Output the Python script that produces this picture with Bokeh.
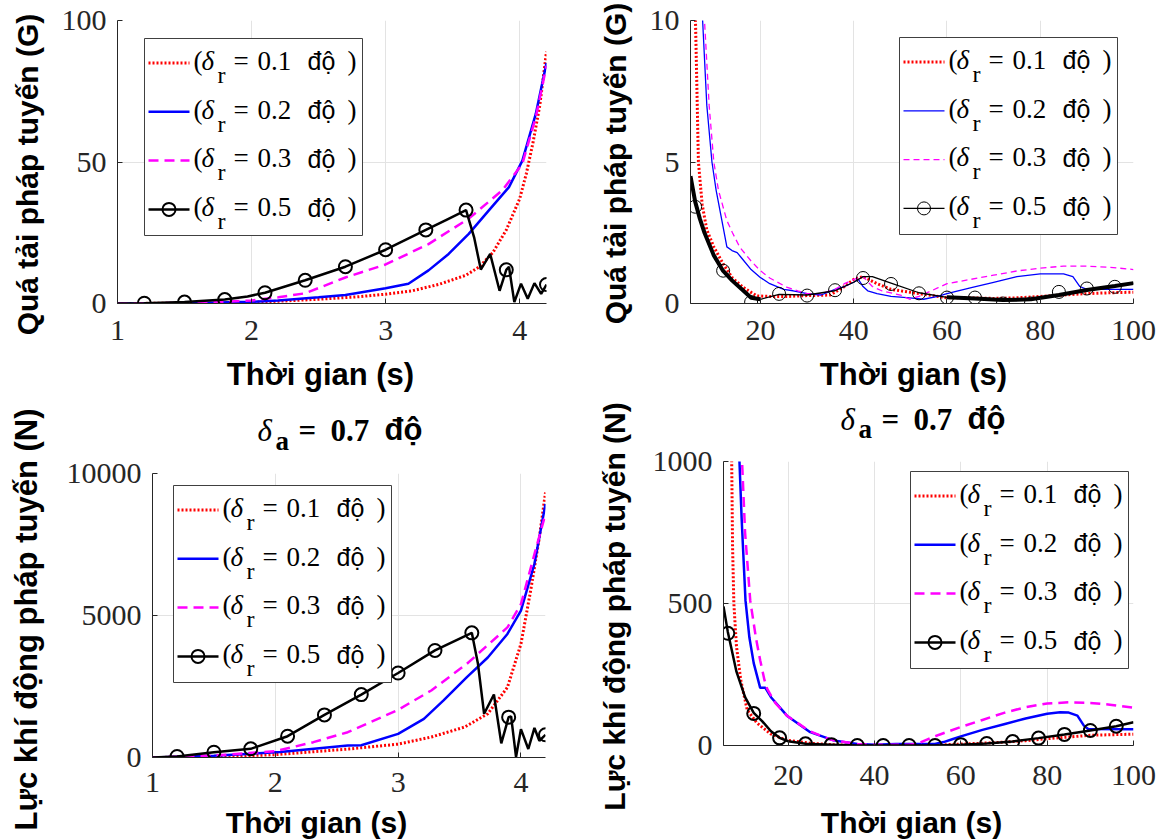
import math
from bokeh.plotting import figure
from bokeh.models import Range1d, FixedTicker
from bokeh.layouts import row, column
from bokeh.core.properties import value
from bokeh.embed import file_html
from bokeh.resources import INLINE

# ------------------------------------------------------------------ data
legend_values = ["0.1", "0.2", "0.3", "0.5"]
title_value = "0.7"
x_label = "Thời gian (s)"
y_label_g = "Quá tải pháp tuyến (G)"
y_label_n = "Lực khí động pháp tuyến (N)"

# Panel A (top-left): normal load factor (G), time 1..4.2 s
a_red_t = [1.0, 1.5, 2.0, 2.2, 2.5, 2.8, 3.0, 3.2, 3.4, 3.6, 3.7, 3.8, 3.9, 4.0, 4.05, 4.1, 4.15, 4.2]
a_red_y = [0.0, 0.1, 0.4, 0.8, 1.5, 2.4, 3.3, 4.5, 6.8, 10.0, 13.0, 18.0, 26.0, 37.0, 46.0, 57.0, 70.0, 89.0]
a_blue_t = [1.0, 1.5, 2.0, 2.2, 2.5, 2.7, 3.0, 3.17, 3.32, 3.47, 3.62, 3.77, 3.92, 4.02, 4.12, 4.2]
a_blue_y = [0.0, 0.1, 0.6, 1.1, 2.2, 3.0, 5.4, 7.0, 11.7, 17.5, 24.6, 32.9, 41.1, 50.5, 67.0, 85.0]
a_mag_t = [1.0, 1.5, 1.8, 2.0, 2.2, 2.4, 2.7, 3.0, 3.32, 3.62, 3.87, 4.02, 4.12, 4.2]
a_mag_y = [0.0, 0.2, 0.6, 1.1, 2.2, 3.6, 9.2, 13.8, 21.0, 30.0, 40.0, 49.4, 65.8, 84.0]
a_blk_t = [1.0, 1.2, 1.5, 1.8, 1.97, 2.1, 2.4, 2.7, 3.0, 3.3, 3.45, 3.6, 3.66, 3.71, 3.78, 3.85,
           3.9, 3.92, 3.96, 4.01, 4.06, 4.11, 4.16, 4.2]
a_blk_y = [0.0, 0.1, 0.5, 1.4, 2.5, 3.8, 8.2, 13.0, 19.0, 26.0, 29.5, 33.0, 23.4, 12.0, 17.5, 4.5,
           11.9, 13.0, 0.5, 7.0, 1.7, 7.2, 3.4, 6.7]
a_mk_t = [1.2, 1.5, 1.8, 2.1, 2.4, 2.7, 3.0, 3.3, 3.6, 3.9, 4.2]
a_mk_y = [0.1, 0.5, 1.4, 3.8, 8.2, 13.0, 19.0, 26.0, 33.0, 11.9, 6.7]

# Panel B (top-right): normal load factor (G), time 5..100 s
b_red_t = [5.8, 6.2, 6.7, 7.5, 8.5, 10, 12, 14, 16.3, 19.2, 22, 26, 30, 35, 38, 40, 42, 45, 48,
           52, 56, 60, 65, 70, 75, 80, 85, 90, 95, 100]
b_red_y = [12.0, 9.0, 5.0, 3.5, 2.6, 2.0, 1.4, 0.9, 0.57, 0.27, 0.25, 0.25, 0.28, 0.3, 0.6, 0.85,
           0.95, 0.7, 0.5, 0.4, 0.3, 0.2, 0.2, 0.18, 0.2, 0.25, 0.3, 0.35, 0.38, 0.4]
b_blue_t = [7.2, 7.6, 8.5, 9.6, 10.5, 12.0, 12.8, 13.9, 15, 16, 18, 19.9, 22, 25, 27, 30, 33, 36,
            38, 40, 41, 42, 43, 45, 48, 52, 55, 58, 60, 65, 70, 75, 80, 85, 87, 88.5, 90, 100]
b_blue_y = [12.0, 10.0, 7.0, 5.0, 4.0, 2.7, 2.0, 1.87, 1.8, 1.6, 1.2, 0.93, 0.7, 0.5, 0.45, 0.35,
            0.3, 0.5, 0.6, 0.75, 0.85, 0.6, 0.45, 0.35, 0.25, 0.2, 0.15, 0.25, 0.35, 0.55, 0.75,
            0.95, 1.05, 1.05, 0.95, 0.6, 0.5, 0.5]
b_mag_t = [7.5, 8.0, 9.0, 10, 11, 12.8, 14, 15.6, 18, 19.9, 22, 25.6, 28, 30, 33, 36, 38, 40, 42,
           44, 46, 50, 52, 54, 56, 58, 60, 65, 70, 75, 80, 85, 90, 95, 100]
b_mag_y = [12.0, 10.0, 7.0, 5.0, 4.0, 2.93, 2.5, 1.98, 1.5, 1.17, 0.9, 0.58, 0.45, 0.35, 0.35, 0.5,
           0.7, 0.85, 0.95, 0.6, 0.45, 0.3, 0.15, 0.25, 0.4, 0.55, 0.7, 0.85, 1.0, 1.15, 1.25, 1.32,
           1.32, 1.28, 1.2]
b_blk_t = [5, 6, 7, 8, 10, 12, 14, 16, 18, 20, 24, 30, 36, 40, 42, 44, 48, 54, 60, 66, 72, 78,
           84, 90, 96, 100]
b_blk_y = [4.5, 3.6, 3.0, 2.5, 1.7, 1.15, 0.8, 0.5, 0.2, 0.15, 0.32, 0.3, 0.45, 0.75, 0.95, 0.95,
           0.72, 0.38, 0.22, 0.18, 0.12, 0.15, 0.3, 0.48, 0.62, 0.72]
b_mk_t = [6, 12, 18, 24, 30, 36, 42, 48, 54, 60, 66, 72, 78, 84, 90, 96]
b_mk_y = [3.42, 1.16, 0.05, 0.34, 0.28, 0.47, 0.9, 0.69, 0.36, 0.21, 0.21, 0.0, 0.0, 0.41, 0.53, 0.59]

# Panel C (bottom-left): normal aerodynamic force (N), time 1..4.2 s
c_red_t = [1.0, 1.5, 2.0, 2.3, 2.6, 3.0, 3.27, 3.54, 3.73, 3.89, 4.0, 4.08, 4.15, 4.2]
c_red_y = [0, 20, 100, 200, 300, 470, 720, 1070, 1540, 2470, 4000, 5900, 7750, 9330]
c_blue_t = [1.0, 1.5, 2.04, 2.59, 2.7, 3.0, 3.21, 3.37, 3.56, 3.73, 3.89, 4.0, 4.11, 4.2]
c_blue_y = [0, 60, 190, 420, 430, 830, 1360, 2010, 2830, 3520, 4350, 5170, 6820, 8930]
c_mag_t = [1.0, 1.5, 2.0, 2.31, 2.59, 3.0, 3.27, 3.56, 3.89, 4.0, 4.11, 4.2]
c_mag_y = [0, 70, 220, 540, 890, 1680, 2360, 3300, 4580, 5400, 7160, 8580]
c_blk_t = [1.0, 1.2, 1.5, 1.8, 2.1, 2.4, 2.7, 3.0, 3.3, 3.6, 3.65, 3.70, 3.78, 3.84, 3.9, 3.92,
           3.96, 4.0, 4.06, 4.11, 4.15, 4.2]
c_blk_y = [0, 35, 187, 306, 750, 1500, 2215, 2975, 3770, 4390, 3300, 1540, 2220, 500, 1420, 1450,
           20, 1000, 300, 1040, 590, 800]
c_mk_t = [1.2, 1.5, 1.8, 2.1, 2.4, 2.7, 3.0, 3.3, 3.6, 3.9, 4.2]
c_mk_y = [35, 187, 306, 750, 1500, 2215, 2975, 3770, 4390, 1420, 800]

# Panel D (bottom-right): normal aerodynamic force (N), time 5..100 s
d_red_t = [6.6, 6.9, 7.1, 7.4, 8.0, 9.0, 10.5, 12.7, 15.9, 19.8, 25, 30, 35, 40, 50, 55, 60, 65,
           70, 75, 80, 85, 90, 95, 100]
d_red_y = [1300, 1000, 700, 500, 350, 230, 125, 80, 41, 18, 8, 3, 1, 0, 0, 2, 5, 8, 12, 17, 24,
           30, 36, 38, 40]
d_blue_t = [8.4, 8.7, 9.2, 10.1, 11, 12, 13.5, 14.7, 16, 19.7, 25.1, 30.5, 36, 40, 45, 50, 54, 56,
            58, 60, 65, 70, 75, 80, 83, 85, 87, 88.5, 89.5, 100]
d_blue_y = [1100, 1000, 800, 510, 380, 290, 203, 203, 170, 105, 47, 18, 5, 3, 5, 5, 5, 12, 22,
            32, 55, 75, 95, 112, 117, 116, 105, 70, 58, 57]
d_mag_t = [9.0, 9.3, 10, 11.2, 12.5, 13.5, 14.5, 15.1, 17, 19.7, 25, 30, 36, 40, 45, 48, 50, 52,
           55, 60, 65, 70, 75, 80, 85, 90, 95, 100]
d_mag_y = [1100, 1000, 750, 510, 380, 300, 230, 200, 150, 105, 50, 20, 5, 3, 3, 3, 6, 20, 38, 65,
           90, 115, 135, 148, 152, 150, 143, 133]
d_blk_t = [5, 6, 7, 8, 10, 12, 14, 16, 18, 20, 24, 30, 36, 42, 48, 54, 60, 66, 72, 78, 84, 90,
           96, 100]
d_blk_y = [490, 400, 330, 260, 170, 115, 85, 50, 27, 15, 6, 3, 0, 0, 0, 0, 3, 7, 14, 26, 39, 53,
           68, 82]
d_mk_t = [6, 12, 18, 24, 30, 36, 42, 48, 54, 60, 66, 72, 78, 84, 90, 96]
d_mk_y = [395, 113, 27, 6, 3, 0, 0, 0, 0, 3, 7, 14, 26, 39, 53, 68]

# ------------------------------------------------------------------ style
SERIF = "Liberation Serif"
SANS = "Liberation Sans"
MID = {SERIF: 0.338, SANS: 0.347}   # baseline-to-middle distance (em)
RED, BLUE, MAG, BLK = "#FF0000", "#0000FF", "#FF00FF", "#000000"
AX = "#262626"
GRID = "#e3e3e3"


def make_fig(w, h, borders, xr, yr, xt, yt, xstand, ystand):
    bl, br, bt, bb = borders
    p = figure(width=w, height=h, x_range=Range1d(*xr), y_range=Range1d(*yr),
               output_backend="svg", toolbar_location=None,
               min_border_left=bl, min_border_right=br, min_border_top=bt, min_border_bottom=bb)
    p.xaxis.ticker = FixedTicker(ticks=xt)
    p.yaxis.ticker = FixedTicker(ticks=yt)
    for ax in (p.xaxis[0], p.yaxis[0]):
        ax.axis_line_color = AX
        ax.major_tick_line_color = AX
        ax.major_tick_in = 5
        ax.major_tick_out = 0
        ax.minor_tick_line_color = None
        ax.major_label_text_font = SERIF
        ax.major_label_text_font_size = "30px"
        ax.major_label_text_color = AX
    p.xaxis.major_label_standoff = xstand
    p.yaxis.major_label_standoff = ystand
    p.xgrid.grid_line_color = GRID
    p.ygrid.grid_line_color = GRID
    p.outline_line_color = None
    p.background_fill_color = "white"
    p.border_fill_color = "white"
    return p


class Strip:
    """A text-only figure; (px, py) are page pixels. x0p..x1p is the page span of its frame."""

    def __init__(self, w, h, x0p, x1p, bottom_p):
        self.bottom = bottom_p
        self.fig = figure(width=w, height=h, x_range=Range1d(x0p, x1p), y_range=Range1d(0, h),
                          x_axis_type=None, y_axis_type=None, toolbar_location=None,
                          output_backend="svg", min_border=0)
        self.fig.outline_line_color = None
        self.fig.background_fill_color = "white"
        self.fig.border_fill_color = "white"

    def text(self, px, py, text, font, size, style="normal", align="left", rotated=False):
        if rotated:   # px is the baseline x, py the centre
            x, y = px - MID[font] * size, self.bottom - py
            ang = math.pi / 2
        else:         # py is the baseline y
            x, y = px, self.bottom - (py - MID[font] * size)
            ang = 0.0
        self.fig.text(x=[x], y=[y], text=[text], text_font=value(font),
                      text_font_size=value(f"{size}px"), text_font_style=style,
                      text_align=align, text_baseline="middle", angle=ang, text_color="#000000")


def px2data(F, px, py):
    fl, fr, ft, fb, (x0, x1), (y0, y1) = F
    return (x0 + (px - fl) / (fr - fl) * (x1 - x0), y1 - (py - ft) / (fb - ft) * (y1 - y0))


def ftxt(p, F, px, pybase, text, font, size, style="normal"):
    x, y = px2data(F, px, pybase - MID[font] * size)
    p.text(x=[x], y=[y], text=[text], text_font=value(font), text_font_size=value(f"{size}px"),
           text_font_style=style, text_align="left", text_baseline="middle", text_color="#000000")


def add_legend(p, F, styles, L, T):
    W, H = 218, 197
    xl, yt = px2data(F, L, T)
    xr, yb = px2data(F, L + W, T + H)
    p.quad(left=[xl], right=[xr], bottom=[yb], top=[yt], fill_color="white",
           line_color="#404040", line_width=1)
    for i, v in enumerate(legend_values):
        cy = T + 24.5 + 48.8 * i
        sx0, sy = px2data(F, L + 4, cy)
        sx1, _ = px2data(F, L + 45, cy)
        st = styles[i]
        p.line([sx0, sx1], [sy, sy], line_color=st["color"], line_width=st["width"],
               line_dash=st["dash"])
        if st.get("marker"):
            mx, _ = px2data(F, L + 24.5, cy)
            p.scatter([mx], [sy], marker="circle", size=13, fill_color=None,
                      line_color=st["color"], line_width=st["mwidth"])
        base = cy + 7
        pieces = [(49, 0, "(", SERIF, 27, "normal"), (57, 0, "δ", SERIF, 27, "italic"),
                  (73, 13, "r", SERIF, 24, "normal"), (89, 0, "=", SERIF, 27, "normal"),
                  (113, 0, v, SERIF, 27, "normal"), (163, 0, "độ", SANS, 25, "normal"),
                  (203, 0, ")", SERIF, 27, "normal")]
        for dx, dy, t, f, s, sty in pieces:
            ftxt(p, F, L + dx, base + dy, t, f, s, sty)


def add_title(s, L, base, sub):
    s.text(L, base, "δ", SERIF, 31, "italic")
    s.text(L + 18, base + sub, "a", SERIF, 27, "bold")
    s.text(L + 41, base, "=", SERIF, 31, "bold")
    s.text(L + 73, base, title_value, SERIF, 31, "bold")
    s.text(L + 127, base, "độ", SANS, 31, "bold")


def draw_series(p, series, thin=False):
    (rt, ry), (bt, by), (mt, my), (kt, ky), (mkt, mky) = series
    lw = 1.3 if thin else 2.5
    mdash = "6 4" if thin else "10 6"
    p.line(rt, ry, line_color=RED, line_width=3, line_dash="2 2")
    p.line(bt, by, line_color=BLUE, line_width=lw)
    p.line(mt, my, line_color=MAG, line_width=lw, line_dash=mdash)
    p.line(kt, ky, line_color=BLK, line_width=lw)
    p.scatter(mkt, mky, marker="circle", size=13, fill_color=None, line_color=BLK,
              line_width=1 if thin else 2)
    return [dict(color=RED, width=3, dash="2 2"),
            dict(color=BLUE, width=lw, dash="solid"),
            dict(color=MAG, width=lw, dash=mdash),
            dict(color=BLK, width=lw, dash="solid", marker=True, mwidth=1 if thin else 2)]


# ================= left column (x 0..592) =================
# ---- panel A (top-left): frame x 117..546, y 20..303 (page pixels)
FA = (117, 546, 20, 303, (1, 4.2), (0, 100))
pa = make_fig(542, 355, (67, 46, 20, 52), (1, 4.2), (0, 100), [1, 2, 3, 4], [0, 50, 100], 17, 11)
sa = draw_series(pa, [(a_red_t, a_red_y), (a_blue_t, a_blue_y), (a_mag_t, a_mag_y),
                      (a_blk_t, a_blk_y), (a_mk_t, a_mk_y)])
add_legend(pa, FA, sa, 144, 38)
ya = Strip(50, 400, 0, 50, 400)
ya.text(37, 174, y_label_g, SANS, 30, "bold", "center", rotated=True)
xa = Strip(542, 45, 117, 546, 400)
xa.text(320, 385, x_label, SANS, 31, "bold", "center")

# ---- panel C (bottom-left): frame x 152..545, y 473..757
FC = (152, 545, 473, 757, (1, 4.2), (0, 10000))
pc = make_fig(542, 349, (102, 47, 17, 48), (1, 4.2), (0, 10000), [1, 2, 3, 4],
              [0, 5000, 10000], 15, 11)
sc = draw_series(pc, [(c_red_t, c_red_y), (c_blue_t, c_blue_y), (c_mag_t, c_mag_y),
                      (c_blk_t, c_blk_y), (c_mk_t, c_mk_y)])
add_legend(pc, FC, sc, 173, 485)
tc = Strip(542, 56, 152, 545, 456)
add_title(tc, 257, 440, 10)
yc = Strip(50, 439, 0, 50, 839)
yc.text(37, 619, y_label_n, SANS, 31, "bold", "center", rotated=True)
xc = Strip(542, 34, 152, 545, 839)
xc.text(316, 832, x_label, SANS, 30, "bold", "center")

# ================= right column (x 592..1164) =================
# ---- panel B (top-right): frame x 690..1133, y 20..303
FB = (690, 1133, 20, 303, (5, 100), (0, 10))
pb = make_fig(524, 355, (50, 31, 20, 52), (5, 100), (0, 10), [20, 40, 60, 80, 100], [0, 5, 10], 17, 11)
sb = draw_series(pb, [(b_red_t, b_red_y), (b_blue_t, b_blue_y), (b_mag_t, b_mag_y),
                      (b_blk_t, b_blk_y), (b_mk_t, b_mk_y)], thin=True)
# dense oscillation of the 0.5 curve shows as a thick band at both ends
early = [(t, y) for t, y in zip(b_blk_t, b_blk_y) if t <= 20]
late = [(t, y) for t, y in zip(b_blk_t, b_blk_y) if t >= 60]
for seg in (early, late):
    pb.line([s[0] for s in seg], [s[1] for s in seg], line_color=BLK, line_width=4)
add_legend(pb, FB, sb, 899, 37)
yb = Strip(48, 400, 592, 640, 400)
yb.text(625, 163, y_label_g, SANS, 30, "bold", "center", rotated=True)
xb = Strip(524, 45, 690, 1133, 400)
xb.text(913, 385, x_label, SANS, 31, "bold", "center")

# ---- panel D (bottom-right): frame x 723..1133, y 461..745
FD = (723, 1133, 461, 745, (5, 100), (0, 1000))
pd = make_fig(524, 361, (83, 31, 17, 60), (5, 100), (0, 1000), [20, 40, 60, 80, 100],
              [0, 500, 1000], 20, 11)
sd = draw_series(pd, [(d_red_t, d_red_y), (d_blue_t, d_blue_y), (d_mag_t, d_mag_y),
                      (d_blk_t, d_blk_y), (d_mk_t, d_mk_y)])
add_legend(pd, FD, sd, 910, 471)
td = Strip(524, 44, 723, 1133, 444)
add_title(td, 840, 429, 9)
yd = Strip(48, 439, 592, 640, 839)
yd.text(624, 606, y_label_n, SANS, 30, "bold", "center", rotated=True)
xd = Strip(524, 34, 723, 1133, 839)
xd.text(911, 832, x_label, SANS, 30, "bold", "center")

left_col = column(row(ya.fig, column(pa, xa.fig)), row(yc.fig, column(tc.fig, pc, xc.fig)))
right_col = column(row(yb.fig, column(pb, xb.fig)), row(yd.fig, column(td.fig, pd, xd.fig)))
layout = row(left_col, right_col)
open("out.html", "w").write(file_html(layout, INLINE))
